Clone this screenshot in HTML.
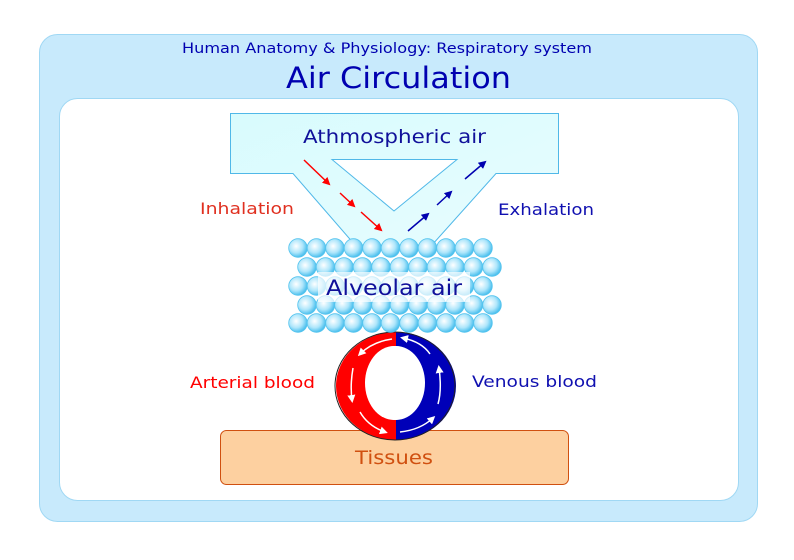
<!DOCTYPE html>
<html><head><meta charset="utf-8"><style>
html,body{margin:0;padding:0;background:#fff;}
svg{display:block;font-family:"DejaVu Sans","Liberation Sans",sans-serif;}
</style></head><body>
<svg width="794" height="560" viewBox="0 0 794 560" xmlns="http://www.w3.org/2000/svg">
<defs>
<radialGradient id="bg" cx="0.4" cy="0.4" r="0.6">
<stop offset="0" stop-color="#ffffff"/><stop offset="0.6" stop-color="#aee6fb"/><stop offset="1" stop-color="#4cc0ee"/>
</radialGradient>
<linearGradient id="ag" x1="0" y1="0" x2="1" y2="1"><stop offset="0" stop-color="#d8fbfd"/><stop offset="1" stop-color="#e8fdff"/></linearGradient>
<g id="b"><circle r="9.3" fill="url(#bg)" stroke="#55c4ee" stroke-width="0.8"/></g>
<marker id="ar" markerWidth="8" markerHeight="8" refX="6" refY="4" orient="auto" markerUnits="userSpaceOnUse"><path d="M0,0 L8,4 L0,8 Z" fill="#ff0000"/></marker>
<marker id="ab" markerWidth="8" markerHeight="8" refX="6" refY="4" orient="auto" markerUnits="userSpaceOnUse"><path d="M0,0 L8,4 L0,8 Z" fill="#0000b0"/></marker>
<marker id="aw" markerWidth="8" markerHeight="8" refX="5" refY="4" orient="auto" markerUnits="userSpaceOnUse"><path d="M0,0 L8,4 L0,8 Z" fill="#fff"/></marker>
</defs>
<rect x="39.5" y="34.5" width="718" height="487" rx="18" fill="#c8eafc" stroke="#a0d8f4"/>
<rect x="59.5" y="98.5" width="679" height="402" rx="18" fill="#fff" stroke="#a0d8f4"/>
<text x="182" y="53" font-size="14" fill="#0000b0" textLength="410" lengthAdjust="spacingAndGlyphs">Human Anatomy &amp; Physiology: Respiratory system</text>
<text x="286" y="88" font-size="29" fill="#0000b0" textLength="225" lengthAdjust="spacingAndGlyphs">Air Circulation</text>

<path d="M230.5,113.5 H558.5 V173.5 H496 L432,245 H355 L293,173.5 H230.5 Z" fill="url(#ag)" stroke="#50b8e8"/>
<path d="M332,159.5 H457 L394,211 Z" fill="#fff" stroke="#50b8e8"/>
<text x="303" y="143" font-size="19" fill="#10109a" textLength="183" lengthAdjust="spacingAndGlyphs">Athmospheric air</text>

<line x1="304" y1="160" x2="329" y2="184" stroke="#ff0000" stroke-width="1.5" marker-end="url(#ar)"/>
<line x1="340" y1="193" x2="354" y2="206" stroke="#ff0000" stroke-width="1.5" marker-end="url(#ar)"/>
<line x1="361" y1="212" x2="381" y2="230" stroke="#ff0000" stroke-width="1.5" marker-end="url(#ar)"/>
<line x1="408" y1="231" x2="428" y2="214" stroke="#0000b0" stroke-width="1.5" marker-end="url(#ab)"/>
<line x1="437" y1="205" x2="451" y2="192" stroke="#0000b0" stroke-width="1.5" marker-end="url(#ab)"/>
<line x1="465" y1="179" x2="485" y2="162" stroke="#0000b0" stroke-width="1.5" marker-end="url(#ab)"/>

<text x="200" y="214" font-size="16" fill="#e03020" textLength="94" lengthAdjust="spacingAndGlyphs">Inhalation</text>
<text x="498" y="215" font-size="16" fill="#1010b0" textLength="96" lengthAdjust="spacingAndGlyphs">Exhalation</text>

<g>
<use href="#b" x="298" y="248"/><use href="#b" x="316.5" y="248"/><use href="#b" x="335" y="248"/><use href="#b" x="353.5" y="248"/><use href="#b" x="372" y="248"/><use href="#b" x="390.5" y="248"/><use href="#b" x="409" y="248"/><use href="#b" x="427.5" y="248"/><use href="#b" x="446" y="248"/><use href="#b" x="464.5" y="248"/><use href="#b" x="483" y="248"/>
<use href="#b" x="307" y="267"/><use href="#b" x="325.5" y="267"/><use href="#b" x="344" y="267"/><use href="#b" x="362.5" y="267"/><use href="#b" x="381" y="267"/><use href="#b" x="399.5" y="267"/><use href="#b" x="418" y="267"/><use href="#b" x="436.5" y="267"/><use href="#b" x="455" y="267"/><use href="#b" x="473.5" y="267"/><use href="#b" x="492" y="267"/>
<use href="#b" x="298" y="286"/><use href="#b" x="316.5" y="286"/><use href="#b" x="335" y="286"/><use href="#b" x="353.5" y="286"/><use href="#b" x="372" y="286"/><use href="#b" x="390.5" y="286"/><use href="#b" x="409" y="286"/><use href="#b" x="427.5" y="286"/><use href="#b" x="446" y="286"/><use href="#b" x="464.5" y="286"/><use href="#b" x="483" y="286"/>
<use href="#b" x="307" y="305"/><use href="#b" x="325.5" y="305"/><use href="#b" x="344" y="305"/><use href="#b" x="362.5" y="305"/><use href="#b" x="381" y="305"/><use href="#b" x="399.5" y="305"/><use href="#b" x="418" y="305"/><use href="#b" x="436.5" y="305"/><use href="#b" x="455" y="305"/><use href="#b" x="473.5" y="305"/><use href="#b" x="492" y="305"/>
</g>
<rect x="318" y="272" width="152" height="30" fill="#fff" opacity="0.7"/>
<text x="326" y="295" font-size="21" fill="#10109a" textLength="136" lengthAdjust="spacingAndGlyphs">Alveolar air</text>

<rect x="220.5" y="430.5" width="348" height="54" rx="6" fill="#fdd0a0" stroke="#d05010"/>
<text x="355" y="464" font-size="19" fill="#d05010" textLength="78" lengthAdjust="spacingAndGlyphs">Tissues</text>

<path d="M396,332 A60,54 0 0 0 396,440 L396,420 A29,37 0 0 1 396,346 Z" fill="#ff0000"/>
<path d="M396,332 A60,54 0 0 1 396,440 L396,420 A29,37 0 0 0 396,346 Z" fill="#0000b8"/>
<ellipse cx="395" cy="386" rx="60" ry="54" fill="none" stroke="#222" stroke-width="1"/>
<ellipse cx="394" cy="383" rx="29" ry="37" fill="#fff"/>
<g>
<use href="#b" x="298" y="323"/><use href="#b" x="316.5" y="323"/><use href="#b" x="335" y="323"/><use href="#b" x="353.5" y="323"/><use href="#b" x="372" y="323"/><use href="#b" x="390.5" y="323"/><use href="#b" x="409" y="323"/><use href="#b" x="427.5" y="323"/><use href="#b" x="446" y="323"/><use href="#b" x="464.5" y="323"/><use href="#b" x="483" y="323"/>
</g>
<g fill="none" stroke="#fff" stroke-width="1.5">
<path d="M392,339 Q372,342 360,354" marker-end="url(#aw)"/>
<path d="M353,368 Q350,385 352,400" marker-end="url(#aw)"/>
<path d="M360,412 Q368,426 385,432" marker-end="url(#aw)"/>
<path d="M400,432 Q420,430 433,418" marker-end="url(#aw)"/>
<path d="M438,404 Q442,390 439,368" marker-end="url(#aw)"/>
<path d="M430,354 Q422,342 403,338" marker-end="url(#aw)"/>
</g>

<text x="190" y="388" font-size="16" fill="#ff0000" textLength="125" lengthAdjust="spacingAndGlyphs">Arterial blood</text>
<text x="472" y="387" font-size="16" fill="#1010b0" textLength="125" lengthAdjust="spacingAndGlyphs">Venous blood</text>
</svg>
</body></html>
